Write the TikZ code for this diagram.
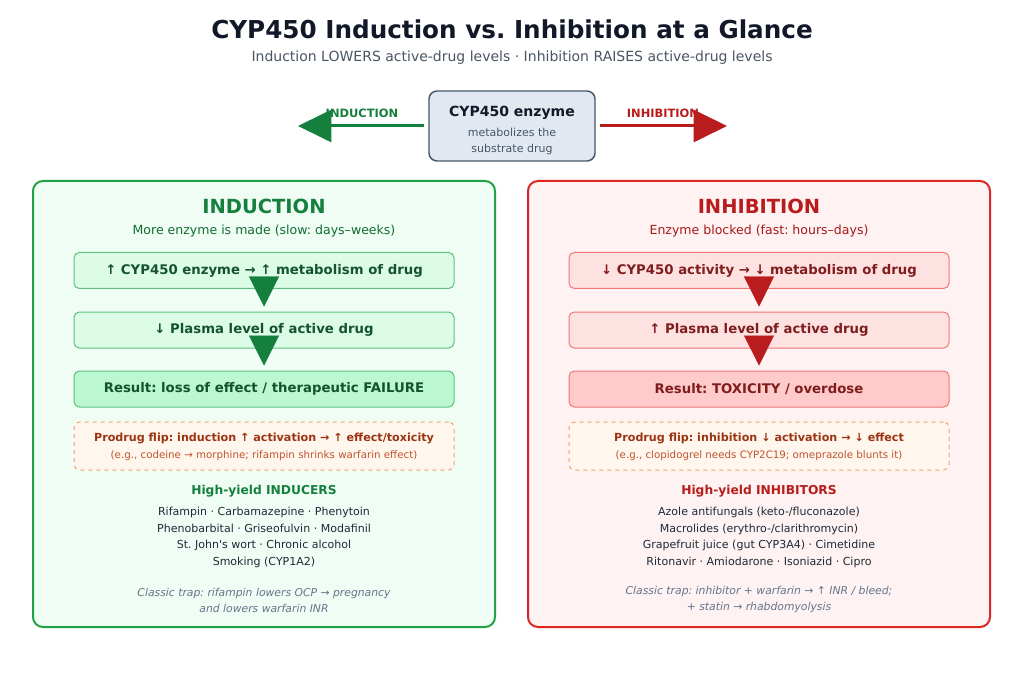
\documentclass[tikz,border=0pt]{standalone}
\usepackage{fontspec}
\setmainfont{DejaVu Sans}
\usetikzlibrary{arrows.meta}
\frenchspacing

\definecolor{titlenavy}{HTML}{111827}
\definecolor{subgray}{HTML}{4B5563}
\definecolor{slatefill}{HTML}{E2E8F0}
\definecolor{slateline}{HTML}{475569}
\definecolor{indgreen}{HTML}{15803D}
\definecolor{indline}{HTML}{22A34A}
\definecolor{indfill}{HTML}{F0FDF4}
\definecolor{indbox}{HTML}{DCFCE7}
\definecolor{indres}{HTML}{BBF7D0}
\definecolor{indboxline}{HTML}{5CC27E}
\definecolor{indtext}{HTML}{14532D}
\definecolor{inhred}{HTML}{B91C1C}
\definecolor{inhline}{HTML}{DC2626}
\definecolor{inhfill}{HTML}{FEF2F2}
\definecolor{inhbox}{HTML}{FEE2E2}
\definecolor{inhres}{HTML}{FECACA}
\definecolor{inhboxline}{HTML}{F07878}
\definecolor{inhtext}{HTML}{7F1D1D}
\definecolor{flipfill}{HTML}{FFF7ED}
\definecolor{flipline}{HTML}{F4A26B}
\definecolor{fliptext}{HTML}{9A3412}
\definecolor{flipsub}{HTML}{C0522D}
\definecolor{listtext}{HTML}{1F2937}
\definecolor{trapgray}{HTML}{64748B}

\tikzset{
    panel/.style={draw, line width=1.5pt, rounded corners=7.5pt,
        minimum width=346.5pt, minimum height=334.5pt, inner sep=0pt},
    stepbox/.style={draw, line width=0.75pt, rounded corners=4pt,
        minimum width=285pt, minimum height=27pt, inner sep=0pt,
        font=\fontsize{9.95}{11}\selectfont\bfseries},
    flipbox/.style={draw=flipline, fill=flipfill, dashed, line width=0.75pt,
        rounded corners=4pt, minimum width=285pt, minimum height=36pt, inner sep=0pt},
    flowtip/.style={line width=0.1pt, -{Triangle[length=22.5pt,width=22.5pt]}},
    bigarrow/.style={line width=2.25pt, -{Triangle[length=25pt,width=24pt]}},
}

\begin{document}
\begin{tikzpicture}[x=0.75pt,y=-0.75pt]
    \useasboundingbox[fill=white] (0,0) rectangle (1024,677);

    % heading
    \node[font=\fontsize{18.5}{21}\selectfont\bfseries, text=titlenavy] (title) at (512,29)
        {CYP450 Induction vs. Inhibition at a Glance};
    \node[font=\fontsize{10.5}{12}\selectfont, text=subgray] (subtitle) at (512,58)
        {Induction LOWERS active-drug levels · Inhibition RAISES active-drug levels};

    % enzyme in the middle
    \node[draw=slateline, fill=slatefill, line width=1.1pt, rounded corners=6pt,
        minimum width=124.5pt, minimum height=52.5pt] (enz) at (512,126) {};
    \node[font=\fontsize{10.5}{12}\selectfont\bfseries, text=titlenavy] (enztitle) at (512,113) {CYP450 enzyme};
    \node[font=\fontsize{8.25}{12}\selectfont, text=slateline, align=center] (enzsub) at (512,141)
        {metabolizes the\\substrate drug};

    % direction arrows
    \node[font=\fontsize{8.6}{10}\selectfont\bfseries, text=indgreen] (indlabel) at (362,113) {INDUCTION};
    \node[font=\fontsize{8.6}{10}\selectfont\bfseries, text=inhred] (inhlabel) at (663,113) {INHIBITION};
    \coordinate (indtip) at (298,126);
    \coordinate (inhtip) at (727,126);
    \draw[bigarrow, indgreen] ([xshift=-3pt]enz.west) -- (indtip);
    \draw[bigarrow, inhred] ([xshift=3pt]enz.east) -- (inhtip);

    % induction panel
    \begin{scope}
        \node[panel, draw=indline, fill=indfill] (indpanel) at (264,404) {};
        \node[font=\fontsize{14.6}{16}\selectfont\bfseries, text=indgreen] (indhead) at (264,206) {INDUCTION};
        \node[font=\fontsize{9.4}{11}\selectfont, text=indgreen!85!black] (indsub) at (264,231)
            {More enzyme is made (slow: days–weeks)};

        \node[stepbox, draw=indboxline, fill=indbox, text=indtext] (ind1) at (264,270.5)
            {↑ CYP450 enzyme → ↑ metabolism of drug};
        \node[stepbox, draw=indboxline, fill=indbox, text=indtext] (ind2) at (264,330)
            {↓ Plasma level of active drug};
        \node[stepbox, draw=indboxline, fill=indres, text=indtext] (ind3) at (264,389)
            {Result: loss of effect / therapeutic FAILURE};
        \draw[flowtip, indgreen] ([yshift=8.25pt]ind1.south) -- ([yshift=3.75pt]ind2.north);
        \draw[flowtip, indgreen] ([yshift=8.25pt]ind2.south) -- ([yshift=3.75pt]ind3.north);

        \node[flipbox] (indflip) at (264,446) {};
        \node[font=\fontsize{8.37}{10}\selectfont\bfseries, text=fliptext] (indfliphead) at (264,438.5)
            {Prodrug flip: induction ↑ activation → ↑ effect/toxicity};
        \node[font=\fontsize{7.7}{9}\selectfont, text=flipsub] (indflipsub) at (264,455.5)
            {(e.g., codeine → morphine; rifampin shrinks warfarin effect)};

        \node[font=\fontsize{9.2}{10}\selectfont\bfseries, text=indgreen] (indlisthead) at (264,491)
            {High-yield INDUCERS};
        \node[font=\fontsize{8.27}{12.4}\selectfont, text=listtext, align=center] (indlist) at (264,537.5)
            {Rifampin · Carbamazepine · Phenytoin\\Phenobarbital · Griseofulvin · Modafinil\\
             St. John\textquotesingle s wort · Chronic alcohol\\Smoking (CYP1A2)};
        \node[font=\fontsize{8.1}{12}\selectfont\itshape, text=trapgray, align=center] (indtrap) at (264,600)
            {Classic trap: rifampin lowers OCP → pregnancy\\and lowers warfarin INR};
    \end{scope}

    % inhibition panel
    \begin{scope}
        \node[panel, draw=inhline, fill=inhfill] (inhpanel) at (759,404) {};
        \node[font=\fontsize{14.6}{16}\selectfont\bfseries, text=inhred] (inhhead) at (759,206) {INHIBITION};
        \node[font=\fontsize{9.4}{11}\selectfont, text=inhred!90!black] (inhsub) at (759,231)
            {Enzyme blocked (fast: hours–days)};

        \node[stepbox, draw=inhboxline, fill=inhbox, text=inhtext] (inh1) at (759,270.5)
            {↓ CYP450 activity → ↓ metabolism of drug};
        \node[stepbox, draw=inhboxline, fill=inhbox, text=inhtext] (inh2) at (759,330)
            {↑ Plasma level of active drug};
        \node[stepbox, draw=inhboxline, fill=inhres, text=inhtext] (inh3) at (759,389)
            {Result: TOXICITY / overdose};
        \draw[flowtip, inhred] ([yshift=8.25pt]inh1.south) -- ([yshift=3.75pt]inh2.north);
        \draw[flowtip, inhred] ([yshift=8.25pt]inh2.south) -- ([yshift=3.75pt]inh3.north);

        \node[flipbox] (inhflip) at (759,446) {};
        \node[font=\fontsize{8.37}{10}\selectfont\bfseries, text=fliptext] (inhfliphead) at (759,438.5)
            {Prodrug flip: inhibition ↓ activation → ↓ effect};
        \node[font=\fontsize{7.7}{9}\selectfont, text=flipsub] (inhflipsub) at (759,455.5)
            {(e.g., clopidogrel needs CYP2C19; omeprazole blunts it)};

        \node[font=\fontsize{9.2}{10}\selectfont\bfseries, text=inhred] (inhlisthead) at (759,491)
            {High-yield INHIBITORS};
        \node[font=\fontsize{8.27}{12.4}\selectfont, text=listtext, align=center] (inhlist) at (759,537.5)
            {Azole antifungals (keto-/fluconazole)\\Macrolides (erythro-/clarithromycin)\\
             Grapefruit juice (gut CYP3A4) · Cimetidine\\Ritonavir · Amiodarone · Isoniazid · Cipro};
        \node[font=\fontsize{8.1}{12}\selectfont\itshape, text=trapgray, align=center] (inhtrap) at (759,600)
            {Classic trap: inhibitor + warfarin → ↑ INR / bleed;\\+ statin → rhabdomyolysis};
    \end{scope}
\end{tikzpicture}
\end{document}
